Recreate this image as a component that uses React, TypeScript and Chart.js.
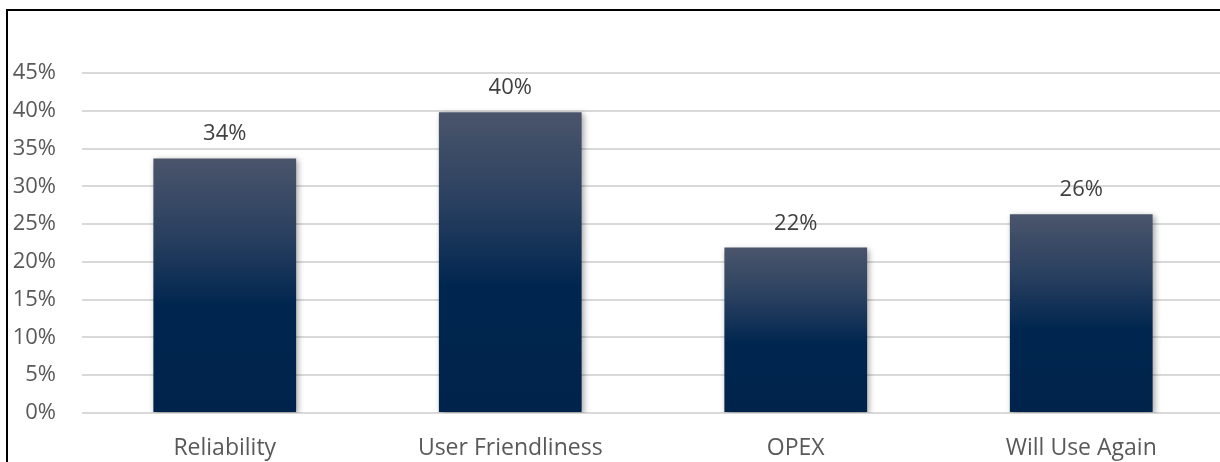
import React, { useEffect, useRef } from "react";
import { Chart, registerables } from "chart.js";

Chart.register(...registerables);

const categories = ["Reliability", "User Friendliness", "OPEX", "Will Use Again"];
const values = [0.337, 0.398, 0.219, 0.263];
const valueLabels = ["34%", "40%", "22%", "26%"];
const yTickMax = 0.45;
const yTickStep = 0.05;

const FONT = "'Open Sans', 'Liberation Sans', sans-serif";

const shadowPlugin = {
  id: "barShadow",
  beforeDatasetDraw(chart: any) {
    const ctx = chart.ctx;
    ctx.save();
    ctx.shadowColor = "rgba(0,0,0,0.35)";
    ctx.shadowBlur = 6;
    ctx.shadowOffsetX = 2;
    ctx.shadowOffsetY = 2;
  },
  afterDatasetDraw(chart: any) {
    chart.ctx.restore();
  },
};

const labelPlugin = {
  id: "valueLabels",
  afterDatasetsDraw(chart: any) {
    const ctx = chart.ctx;
    const meta = chart.getDatasetMeta(0);
    ctx.save();
    ctx.font = `22px ${FONT}`;
    ctx.fillStyle = "#404040";
    ctx.textAlign = "center";
    ctx.textBaseline = "alphabetic";
    meta.data.forEach((bar: any, i: number) => {
      ctx.fillText(valueLabels[i], bar.x, bar.y - 18);
    });
    ctx.restore();
  },
};

export default function App() {
  const ref = useRef<HTMLCanvasElement>(null);

  useEffect(() => {
    document.body.style.margin = "0";
    const canvas = ref.current!;
    const chart = new Chart(canvas, {
      type: "bar",
      data: {
        labels: categories,
        datasets: [
          {
            data: values,
            barPercentage: 0.5,
            categoryPercentage: 1,
            borderWidth: 0,
            backgroundColor: (c: any) => {
              const ch = c.chart;
              const area = ch.chartArea;
              if (!area || c.dataIndex === undefined) return "#00264f";
              const yScale = ch.scales.y;
              const top = yScale.getPixelForValue(values[c.dataIndex]);
              const bottom = yScale.getPixelForValue(0);
              const g = ch.ctx.createLinearGradient(0, top, 0, bottom);
              g.addColorStop(0, "#4a556b");
              g.addColorStop(0.3, "#2a4060");
              g.addColorStop(0.58, "#00264f");
              g.addColorStop(1, "#00234b");
              return g;
            },
          },
        ],
      },
      options: {
        responsive: false,
        animation: false,
        devicePixelRatio: 1,
        layout: { padding: { top: 73, left: 0, right: 0, bottom: 0 } },
        plugins: {
          legend: { display: false },
          tooltip: { enabled: false },
          title: { display: false },
        },
        scales: {
          x: {
            grid: { display: false, drawTicks: false },
            border: { display: false },
            ticks: {
              color: "#595959",
              font: { family: FONT, size: 23 },
              padding: 22,
              maxRotation: 0,
              autoSkip: false,
            },
            afterFit(scale: any) {
              scale.height = 49;
            },
          },
          y: {
            min: 0,
            max: yTickMax,
            grid: { color: "#d9d9d9", lineWidth: 2, drawTicks: false },
            border: { display: false },
            ticks: {
              stepSize: yTickStep,
              color: "#595959",
              font: { family: FONT, size: 22 },
              padding: 26,
              callback: (v: any) => Math.round(Number(v) * 100) + "%",
            },
            afterFit(scale: any) {
              scale.width = 82;
            },
          },
        },
      },
      plugins: [shadowPlugin, labelPlugin],
    });
    return () => chart.destroy();
  }, []);

  return (
    <div style={{ position: "relative", width: 1220, height: 462, overflow: "hidden", background: "#fff" }}>
      <canvas ref={ref} width={1224} height={462} style={{ position: "absolute", left: 0, top: 0 }} />
      <div
        style={{
          position: "absolute",
          left: 6,
          top: 9,
          width: 1300,
          height: 500,
          borderLeft: "2px solid #000",
          borderTop: "2px solid #000",
          pointerEvents: "none",
        }}
      />
    </div>
  );
}
